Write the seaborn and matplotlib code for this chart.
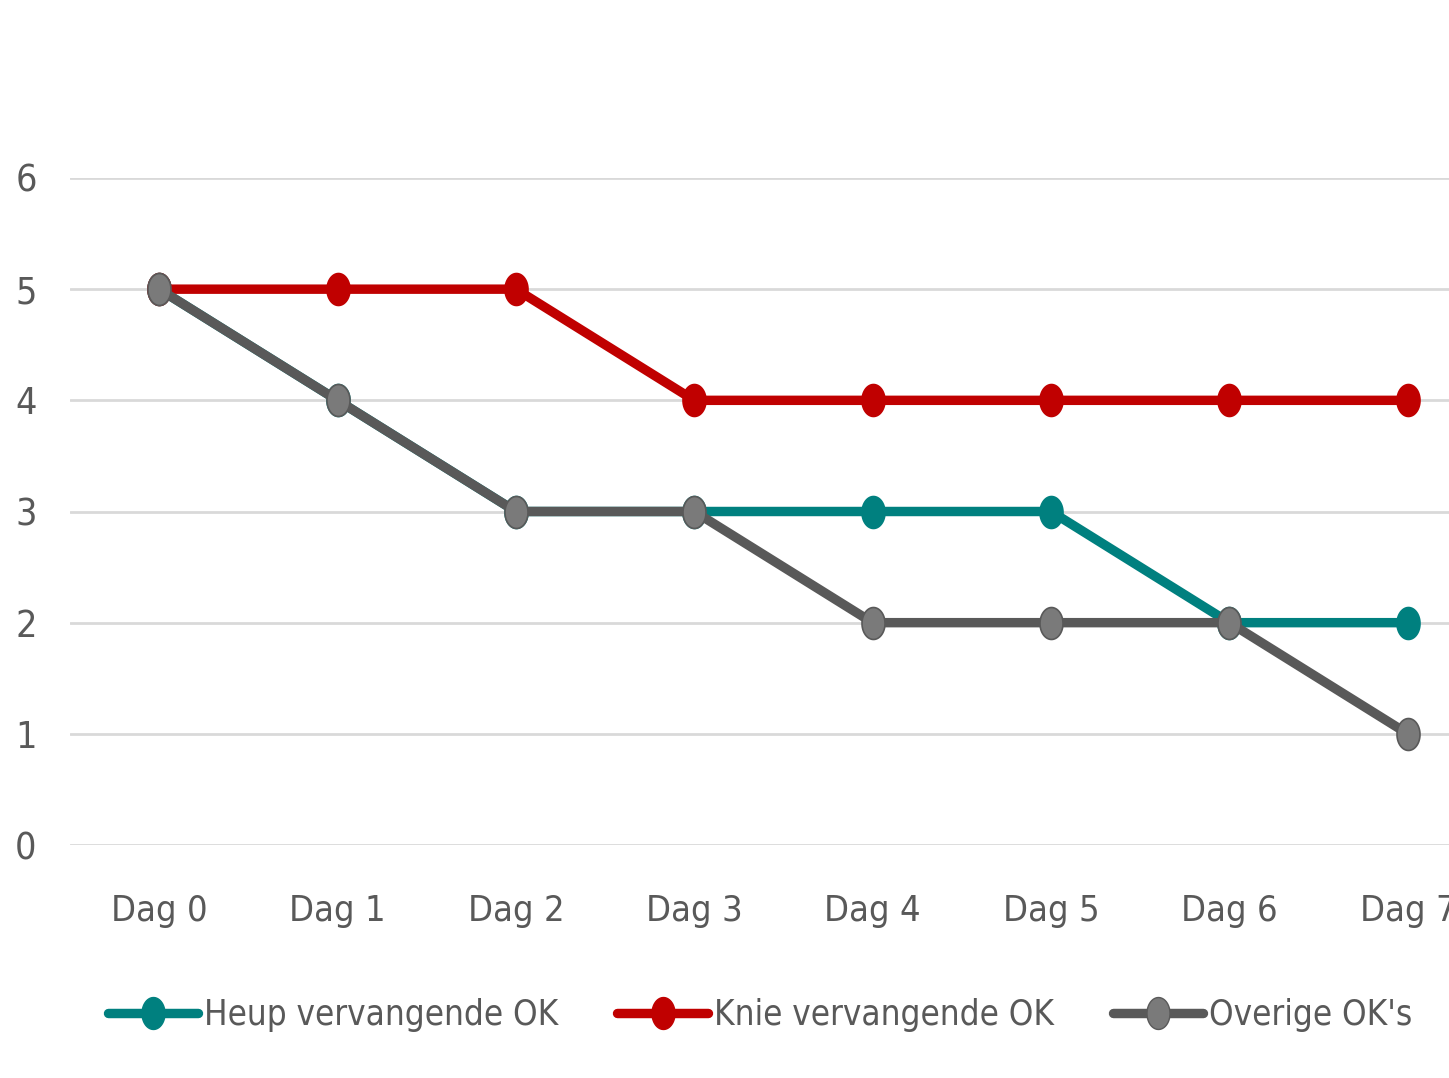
import matplotlib
matplotlib.use("Agg")
import matplotlib.pyplot as plt
import seaborn as sns
import pandas as pd
import numpy as np
from matplotlib.lines import Line2D
from matplotlib.path import Path
from matplotlib import font_manager

categories = ["Dag 0", "Dag 1", "Dag 2", "Dag 3", "Dag 4", "Dag 5", "Dag 6", "Dag 7"]
heup = [5, 4, 3, 3, 3, 3, 2, 2]
knie = [5, 5, 5, 4, 4, 4, 4, 4]
overig = [5, 4, 3, 3, 2, 2, 2, 1]
series_names = ["Heup vervangende OK", "Knie vervangende OK", "Overige OK's"]
series_values = [heup, knie, overig]
colors = ["#00807f", "#c00000", "#595959"]
marker_fill = ["#00807f", "#c00000", "#7a7a7a"]
yticks = [0, 1, 2, 3, 4, 5, 6]

sns.set_theme(style="white")
names = {f.name for f in font_manager.fontManager.ttflist}
fam = [n for n in ["Liberation Sans Narrow", "DejaVu Sans"] if n in names]
plt.rcParams["font.family"] = fam
plt.rcParams["font.stretch"] = "condensed"

# elliptical marker (taller than wide)
t = np.linspace(0, 2 * np.pi, 60)
ell_verts = np.column_stack([0.72 * np.cos(t), np.sin(t)])
ell = Path(ell_verts, closed=True)

rows = []
for name, vals in zip(series_names, series_values):
    for i, v in enumerate(vals):
        rows.append({"idx": i, "value": v, "serie": name})
df = pd.DataFrame(rows)

fig = plt.figure(figsize=(14.49, 10.78), dpi=100)
ax = fig.add_axes([70 / 1449, 1 - 845 / 1078, (1497 - 70) / 1449, (845 - 178) / 1078])

lw = 6.8
ms = 23
for name, col, mf in zip(series_names, colors, marker_fill):
    sub = df[df["serie"] == name]
    sns.lineplot(data=sub, x="idx", y="value", ax=ax, color=col, linewidth=lw,
                 marker=ell, markersize=ms, markerfacecolor=mf,
                 markeredgecolor=col, markeredgewidth=1.2, label=name, legend=False)

ax.set_xlim(-0.5, 7.5)
ax.set_ylim(0, 6)
ax.set_yticks(yticks)
ax.set_yticklabels([str(t) for t in yticks])
ax.set_xticks(range(len(categories)))
ax.set_xticklabels(categories)
ax.grid(axis="y", color="#d9d9d9", linewidth=2)
ax.grid(axis="x", visible=False)
ax.set_axisbelow(True)
for s in ax.spines.values():
    s.set_visible(False)
ax.set_xlabel("")
ax.set_ylabel("")
ax.tick_params(axis="y", labelsize=27, labelcolor="#595959", pad=24, length=0)
ax.tick_params(axis="x", labelsize=26, labelcolor="#595959", pad=35, length=0)

handles = [Line2D([0], [0], color=c, linewidth=lw, marker=ell, markersize=ms,
                  markerfacecolor=mf, markeredgecolor=c) for c, mf in zip(colors, marker_fill)]
fig.legend(handles, series_names, loc="center", bbox_to_anchor=(760 / 1449, 1 - 1015 / 1078),
           ncol=3, frameon=False, fontsize=25, labelcolor="#595959",
           handlelength=2.6, handletextpad=0.17, columnspacing=1.7)

fig.savefig("out.png", dpi=100)
